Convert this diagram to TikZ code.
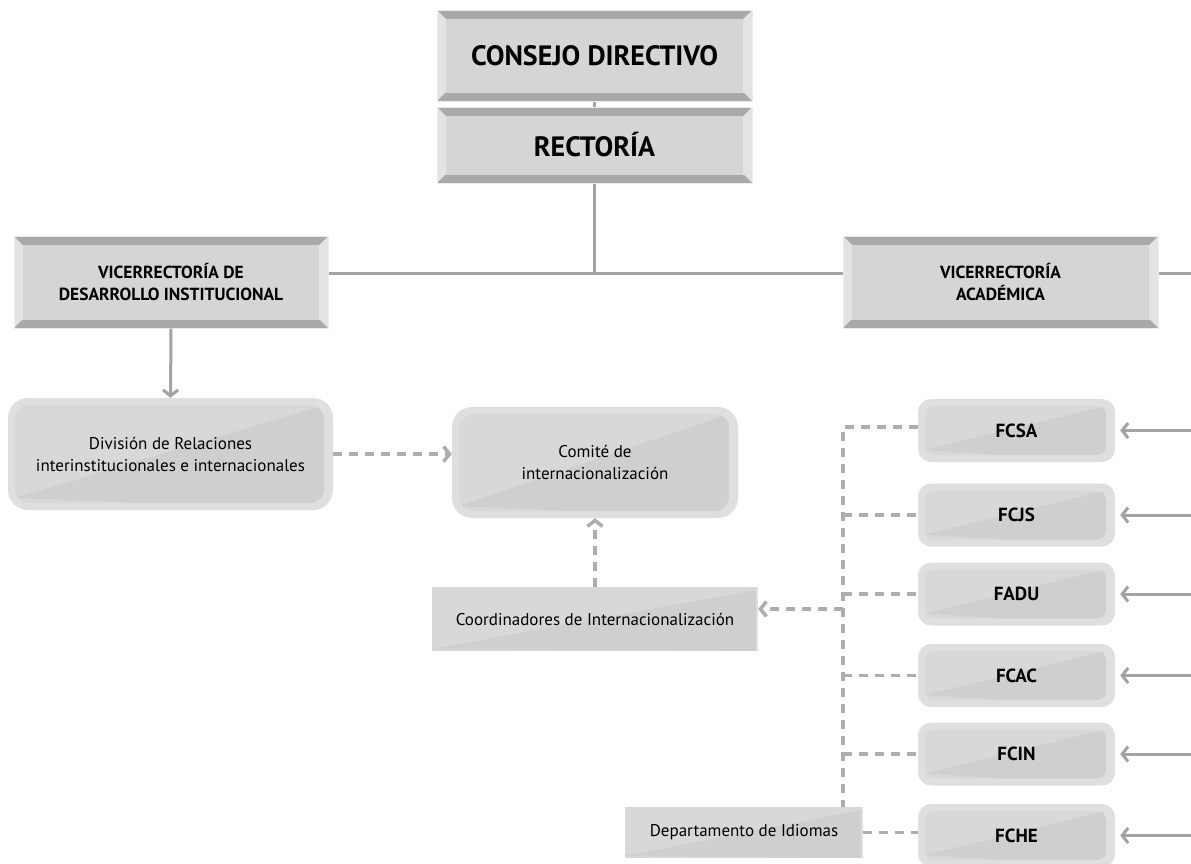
\documentclass[tikz,border=0pt]{standalone}
\usepackage{fontspec}
\setmainfont{PT Sans}
\usetikzlibrary{arrows.meta,calc}
\definecolor{bvdark}{HTML}{A8AAAA}
\definecolor{bvside}{HTML}{E3E3E3}
\definecolor{bvmid}{HTML}{D5D5D5}
\definecolor{bvedge}{HTML}{ECECEC}
\definecolor{rdrim}{HTML}{DFDFDF}
\definecolor{rdlight}{HTML}{D8D8D8}
\definecolor{rddark}{HTML}{CFCFCF}
\definecolor{lnsolid}{HTML}{A3A3A3}
\definecolor{lndash}{HTML}{ADADAD}
\tikzset{
  bevelbox/.style={rectangle, inner sep=0pt, align=center, fill=bvside, draw=bvedge, line width=1pt,
    path picture={
      \fill[bvdark] (path picture bounding box.north west) -- (path picture bounding box.north east)
        -- ([shift={(-9pt,-9pt)}]path picture bounding box.north east) -- ([shift={(9pt,-9pt)}]path picture bounding box.north west) -- cycle;
      \fill[bvdark] (path picture bounding box.south west) -- (path picture bounding box.south east)
        -- ([shift={(-8pt,8pt)}]path picture bounding box.south east) -- ([shift={(8pt,8pt)}]path picture bounding box.south west) -- cycle;
      \fill[bvmid] ([shift={(9pt,8pt)}]path picture bounding box.south west) rectangle ([shift={(-9pt,-9pt)}]path picture bounding box.north east);
    }},
  roundbox/.style={rectangle, inner sep=0pt, align=center, fill=rdrim, rounded corners=#1,
    path picture={
      \begin{scope}[sharp corners]
      \clip[rounded corners=#1*0.7] ([shift={(7pt,7pt)}]path picture bounding box.south west) rectangle ([shift={(-9pt,-7pt)}]path picture bounding box.north east);
      \fill[rdlight] (path picture bounding box.south west) rectangle (path picture bounding box.north east);
      \fill[rddark] ([shift={(7pt,12pt)}]path picture bounding box.south west) -- ([shift={(-9pt,-7pt)}]path picture bounding box.north east) -- (path picture bounding box.south east) -- cycle;
      \end{scope}
    }},
  flatbox/.style={rectangle, inner sep=0pt, align=center, fill=rdlight,
    path picture={
      \fill[rddark] ([shift={(0pt,2pt)}]path picture bounding box.south west) -- ([shift={(-2pt,-3pt)}]path picture bounding box.north east) -- (path picture bounding box.south east) -- cycle;
      \fill[rdrim] ([shift={(-2pt,0pt)}]path picture bounding box.south east) rectangle (path picture bounding box.north east);
    }},
  bigtxt/.style={font=\fontsize{28}{32}\selectfont\bfseries},
  vicetxt/.style={font=\fontsize{17.5}{22}\selectfont\bfseries},
  factxt/.style={font=\fontsize{19}{22}\selectfont\bfseries},
  normtxt/.style={font=\fontsize{17}{22}\selectfont},
  conn/.style={draw=lnsolid, line width=3pt},
  dconn/.style={draw=lndash, line width=3.5pt, dash pattern=on 9pt off 7pt},
  tip/.style={-{Straight Barb[length=6pt,width=15pt]}},
}
\begin{document}
\begin{tikzpicture}[x=1pt,y=-1pt]
\useasboundingbox[fill=white] (0,0) rectangle (1191,863);
% coordinates
\coordinate (hy) at (591,273);
\coordinate (redge) at (1191,273);
\coordinate (vx) at (843,427);
\coordinate (cj) at (843,609);
\coordinate (rx) at (1191,0);
% boxes
\node[bevelbox, bigtxt, minimum width=315pt, minimum height=91pt] (CD) at (594.5,55.5) {CONSEJO DIRECTIVO};
\node[bevelbox, bigtxt, minimum width=315pt, minimum height=76pt] (REC) at (594.5,145) {RECTORÍA};
\node[bevelbox, vicetxt, minimum width=314pt, minimum height=92pt] (VDI) at (171,282) {VICERRECTORÍA DE\\DESARROLLO INSTITUCIONAL};
\node[bevelbox, vicetxt, minimum width=315pt, minimum height=92pt] (VA) at (1000.5,282) {VICERRECTORÍA\\ACADÉMICA};
\node[roundbox=20pt, normtxt, minimum width=325pt, minimum height=112pt] (DIV) at (170.5,454) {División de Relaciones\\interinstitucionales e internacionales};
\node[roundbox=20pt, normtxt, minimum width=286pt, minimum height=111pt] (COM) at (595,462.5) {Comité de\\internacionalización};
\node[flatbox, normtxt, minimum width=326pt, minimum height=64pt] (COORD) at (595,619) {Coordinadores de Internacionalización};
\node[flatbox, normtxt, minimum width=238pt, minimum height=51pt] (DEP) at (744,832.5) {Departamento de Idiomas};
\node[roundbox=13pt, factxt, minimum width=197pt, minimum height=63pt] (FCSA) at (1016.5,430.5) {FCSA};
\node[roundbox=13pt, factxt, minimum width=197pt, minimum height=63pt] (FCJS) at (1016.5,515) {FCJS};
\node[roundbox=13pt, factxt, minimum width=197pt, minimum height=63pt] (FADU) at (1016.5,594) {FADU};
\node[roundbox=13pt, factxt, minimum width=197pt, minimum height=63pt] (FCAC) at (1016.5,675.5) {FCAC};
\node[roundbox=13pt, factxt, minimum width=197pt, minimum height=63pt] (FCIN) at (1016.5,754) {FCIN};
\node[roundbox=13pt, factxt, minimum width=197pt, minimum height=63pt] (FCHE) at (1016.5,835.5) {FCHE};
% solid connectors
\draw[conn] (CD.south) -- (REC.north);
\draw[conn] (REC.south) -- (REC.south |- hy);
\draw[conn] (VDI.east |- hy) -- (VA.west |- hy);
\draw[conn] (VA.east |- redge) -- (redge);
\draw[conn, tip] (VDI.south) -- (DIV.north);
\foreach \f in {FCSA,FCJS,FADU,FCAC,FCIN,FCHE}{
  \draw[conn, tip, shorten >=5pt] (rx |- \f.east) -- (\f.east);
}
% dashed connectors
\draw[dconn, tip] (DIV.east) -- (DIV.east -| COM.west);
\draw[dconn, tip] (COORD.north) -- (COM.south);
\draw[dconn] (vx -| FCSA.west) -- (vx) -- (vx |- DEP.north);
\foreach \f in {FCJS,FADU,FCAC,FCIN}{
  \draw[dconn] (vx |- \f.west) -- (\f.west);
}
\draw[dconn, tip] (cj) -- (cj -| COORD.east);
\draw[dconn] (DEP.east) -- (DEP.east -| FCHE.west);
\end{tikzpicture}
\end{document}
